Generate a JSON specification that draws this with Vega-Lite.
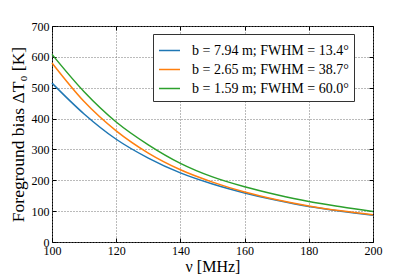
{
  "$schema": "https://vega.github.io/schema/vega-lite/v6.json",
  "width": 321,
  "height": 216,
  "autosize": "none",
  "padding": {"left": 52, "top": 26, "right": 42, "bottom": 35},
  "background": "white",
  "config": {
    "font": "Liberation Serif",
    "view": {"stroke": "black", "strokeWidth": 1}
  },
  "data": {
    "values": [
      {"nu": 100, "T": 515, "s": "b = 7.94 m; FWHM = 13.4°"},
      {"nu": 110, "T": 415, "s": "b = 7.94 m; FWHM = 13.4°"},
      {"nu": 120, "T": 333, "s": "b = 7.94 m; FWHM = 13.4°"},
      {"nu": 130, "T": 272, "s": "b = 7.94 m; FWHM = 13.4°"},
      {"nu": 140, "T": 224, "s": "b = 7.94 m; FWHM = 13.4°"},
      {"nu": 150, "T": 188, "s": "b = 7.94 m; FWHM = 13.4°"},
      {"nu": 160, "T": 159, "s": "b = 7.94 m; FWHM = 13.4°"},
      {"nu": 170, "T": 135, "s": "b = 7.94 m; FWHM = 13.4°"},
      {"nu": 180, "T": 115, "s": "b = 7.94 m; FWHM = 13.4°"},
      {"nu": 190, "T": 100, "s": "b = 7.94 m; FWHM = 13.4°"},
      {"nu": 200, "T": 87, "s": "b = 7.94 m; FWHM = 13.4°"},
      {"nu": 100, "T": 580, "s": "b = 2.65 m; FWHM = 38.7°"},
      {"nu": 110, "T": 455, "s": "b = 2.65 m; FWHM = 38.7°"},
      {"nu": 120, "T": 360, "s": "b = 2.65 m; FWHM = 38.7°"},
      {"nu": 130, "T": 288, "s": "b = 2.65 m; FWHM = 38.7°"},
      {"nu": 140, "T": 234, "s": "b = 2.65 m; FWHM = 38.7°"},
      {"nu": 150, "T": 194, "s": "b = 2.65 m; FWHM = 38.7°"},
      {"nu": 160, "T": 162, "s": "b = 2.65 m; FWHM = 38.7°"},
      {"nu": 170, "T": 137, "s": "b = 2.65 m; FWHM = 38.7°"},
      {"nu": 180, "T": 117, "s": "b = 2.65 m; FWHM = 38.7°"},
      {"nu": 190, "T": 101, "s": "b = 2.65 m; FWHM = 38.7°"},
      {"nu": 200, "T": 88, "s": "b = 2.65 m; FWHM = 38.7°"},
      {"nu": 100, "T": 608, "s": "b = 1.59 m; FWHM = 60.0°"},
      {"nu": 110, "T": 487, "s": "b = 1.59 m; FWHM = 60.0°"},
      {"nu": 120, "T": 389, "s": "b = 1.59 m; FWHM = 60.0°"},
      {"nu": 130, "T": 315, "s": "b = 1.59 m; FWHM = 60.0°"},
      {"nu": 140, "T": 255, "s": "b = 1.59 m; FWHM = 60.0°"},
      {"nu": 150, "T": 211, "s": "b = 1.59 m; FWHM = 60.0°"},
      {"nu": 160, "T": 179, "s": "b = 1.59 m; FWHM = 60.0°"},
      {"nu": 170, "T": 153, "s": "b = 1.59 m; FWHM = 60.0°"},
      {"nu": 180, "T": 131, "s": "b = 1.59 m; FWHM = 60.0°"},
      {"nu": 190, "T": 114, "s": "b = 1.59 m; FWHM = 60.0°"},
      {"nu": 200, "T": 99, "s": "b = 1.59 m; FWHM = 60.0°"}
    ]
  },
  "layer": [
    {
      "mark": {"type": "line", "strokeWidth": 1.5, "interpolate": "monotone"},
      "encoding": {
        "x": {
          "field": "nu", "type": "quantitative",
          "scale": {"domain": [100, 200], "nice": false},
          "axis": {
            "orient": "bottom", "values": [100, 120, 140, 160, 180, 200],
            "title": "ν [MHz]", "titleFont": "Liberation Serif", "titleFontSize": 16, "titleFontWeight": "normal",
            "titleColor": "black", "titlePadding": 2,
            "labelFontSize": 12, "labelColor": "black", "labelPadding": 7, "labelFlush": false,
            "grid": true, "gridDash": [1, 2], "gridColor": "#777", "gridOpacity": 1,
            "tickSize": -4, "tickColor": "black", "domain": false
          }
        },
        "y": {
          "field": "T", "type": "quantitative",
          "scale": {"domain": [0, 700], "nice": false},
          "axis": {
            "orient": "left", "values": [0, 100, 200, 300, 400, 500, 600, 700],
            "title": "Foreground bias ΔT₀ [K]", "titleFontSize": 17.5, "titleFontWeight": "normal",
            "titleColor": "black", "titlePadding": 4,
            "labelFontSize": 12, "labelColor": "black", "labelPadding": 7, "labelFlush": false,
            "grid": true, "gridDash": [1, 2], "gridColor": "#777", "gridOpacity": 1,
            "tickSize": -4, "tickColor": "black", "domain": false
          }
        },
        "color": {
          "field": "s", "type": "nominal",
          "scale": {
            "domain": ["b = 7.94 m; FWHM = 13.4°", "b = 2.65 m; FWHM = 38.7°", "b = 1.59 m; FWHM = 60.0°"],
            "range": ["#1f77b4", "#ff7f0e", "#2ca02c"]
          },
          "legend": {
            "orient": "none", "legendX": 101, "legendY": 8,
            "title": null, "symbolType": "stroke", "symbolSize": 441, "symbolStrokeWidth": 1.5,
            "labelFontSize": 14, "labelColor": "black", "labelOffset": 11,
            "strokeColor": "#333", "fillColor": "white", "padding": 5, "rowPadding": 0,
            "labelLimit": 300
          }
        }
      }
    },
    {
      "mark": {"type": "line", "opacity": 0},
      "encoding": {
        "x": {
          "field": "nu", "type": "quantitative",
          "axis": {"orient": "top", "values": [100, 120, 140, 160, 180, 200], "labels": false, "title": null,
                   "grid": false, "tickSize": -4, "tickColor": "black", "domain": false}
        },
        "y": {
          "field": "T", "type": "quantitative",
          "axis": {"orient": "right", "values": [0, 100, 200, 300, 400, 500, 600, 700], "labels": false, "title": null,
                   "grid": false, "tickSize": -4, "tickColor": "black", "domain": false}
        }
      }
    }
  ],
  "resolve": {"axis": {"x": "independent", "y": "independent"}}
}
